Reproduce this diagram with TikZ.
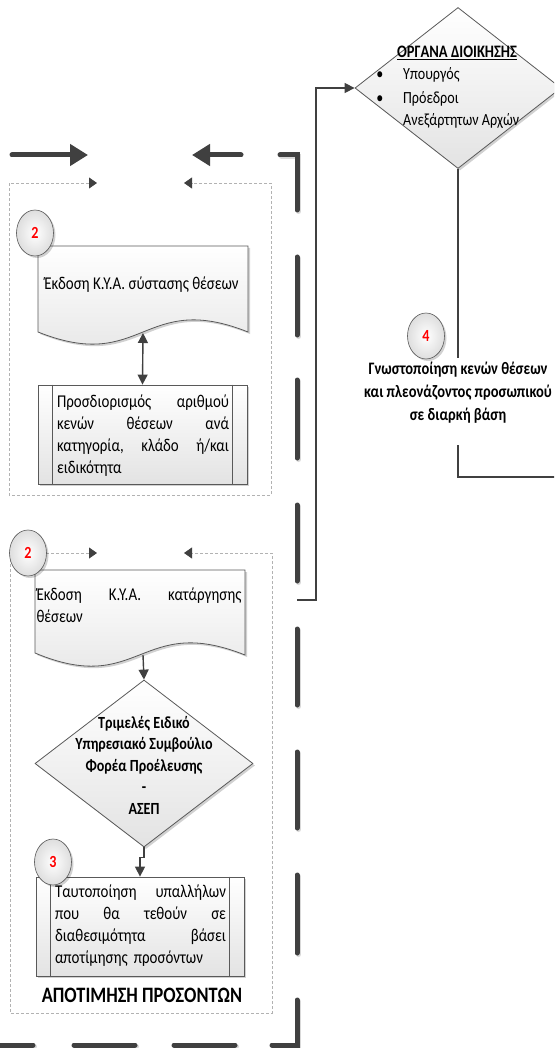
\documentclass[tikz,border=0pt]{standalone}
\usepackage{fontspec}
\setmainfont{Carlito}[FakeStretch=0.83]
\usetikzlibrary{arrows.meta,shapes.geometric,shadows,calc}
\definecolor{darkline}{HTML}{404040}
\definecolor{edgegray}{HTML}{595959}
\definecolor{numred}{HTML}{FF0000}
\begin{document}
\begin{tikzpicture}[x=1pt,y=-1pt,
  bigdash/.style={draw=darkline, line width=5pt, line cap=round,
    preaction={draw=black!15, line width=5pt, line cap=round, transform canvas={xshift=1.5pt,yshift=-1.5pt}}},
  bigarrow/.style={draw=darkline, line width=5pt, line cap=round, -{Triangle[length=18pt,width=21pt]}},
  guide/.style={draw=gray!60, line width=0.8pt, dash pattern=on 3pt off 2pt,
    {Triangle[length=8pt,width=11pt,color=darkline]}-{Triangle[length=8pt,width=11pt,color=darkline]}},
  conn/.style={draw=darkline, line width=1.4pt},
  tipa/.style={-{Triangle[length=10pt,width=10pt]}},
  shadowed/.style={drop shadow={shadow xshift=2pt,shadow yshift=-2pt,fill=black,opacity=0.18}},
  shapefill/.style={draw=edgegray, line width=0.8pt, top color=white, bottom color=black!11, shadowed},
  procbox/.style={rectangle, shapefill, inner sep=0pt},
  diam/.style={diamond, shapefill, inner sep=0pt},
  numcirc/.style={ellipse, draw=edgegray, line width=0.6pt, minimum width=37pt, minimum height=46pt,
    inner sep=0pt, inner color=white, outer color=black!13, shadowed,
    font=\fontsize{17}{17}\selectfont\bfseries, text=numred},
  bodytext/.style={align=left, inner sep=0pt, font=\fontsize{18}{22}\selectfont},
  plaintext/.style={inner sep=0pt, font=\fontsize{17}{20}\selectfont},
  boldtext/.style={align=center, inner sep=0pt, font=\fontsize{17}{21.5}\selectfont\bfseries}
]
\useasboundingbox (0,0) rectangle (554,1048);
\clip (0,0) rectangle (554,1048);

% big top arrows
\coordinate (ta1) at (12,155); \coordinate (ta2) at (88,155);
\draw[bigarrow] (ta1) -- (ta2);
\coordinate (tb1) at (241,155); \coordinate (tb2) at (192,155);
\draw[bigarrow] (tb1) -- (tb2);

% big dashed frame
\draw[bigdash] (280,155) -- (297,155) -- (297,210);
\foreach \a/\b in {257/335, 380/458, 505/581, 629/705, 752/828, 875/953}
  \draw[bigdash] (297,\a) -- (297,\b);
\draw[bigdash] (297,1000) -- (297,1045) -- (272,1045);
\foreach \a/\b in {235/174, 135/74, 33/-5}
  \draw[bigdash] (\a,1045) -- (\b,1045);

% thin dashed guide boxes
\draw[guide] (97,183) -- (9,183) -- (9,495) -- (271,495) -- (271,183) -- (184,183);
\draw[guide] (97,553) -- (10,553) -- (10,1013) -- (272,1013) -- (272,553) -- (184,553);

% right part: diamond 1 and connectors
\coordinate (exit) at (297,600);
\node[diam, minimum width=206pt, minimum height=161pt] (d1) at (458,88) {};
\draw[conn, tipa] (exit) -- ++(19,0) |- (d1.west);
\coordinate (d1out) at (560,477);
\draw[conn] (d1.south) |- (d1out);
\node[boldtext, font=\fontsize{17.5}{20}\selectfont\bfseries] (d1t) at (457,53) {\underline{ΟΡΓΑΝΑ ΔΙΟΙΚΗΣΗΣ}};
\node[plaintext] (bu1) at (380,76) {•};
\node[plaintext] (bu2) at (380,100) {•};
\node[plaintext, anchor=base west] (it1) at (403,80) {Υπουργός};
\node[plaintext, anchor=base west] (it2) at (403,104) {Πρόεδροι};
\node[plaintext, anchor=base west] (it3) at (403,126) {Ανεξάρτητων Αρχών};

\fill[white] (358,358) rectangle (556,445);
\node[boldtext, font=\fontsize{17.5}{23}\selectfont\bfseries] (g4) at (458,393)
  {Γνωστοποίηση κενών θέσεων\\ και πλεονάζοντος προσωπικού\\ σε διαρκή βάση};

% document 1
\path[shapefill] (38,246) -- (248,246) -- (248,332) .. controls (143,290) and (143,374) .. (38,332) -- cycle;
\coordinate (doc1b) at (143,333);
\node[plaintext, font=\fontsize{18}{20}\selectfont] (t1) at (141.5,285) {Έκδοση Κ.Υ.Α. σύστασης θέσεων};

% box 1
\node[procbox, minimum width=209pt, minimum height=99pt] (b1) at (142.5,434.5) {};
\draw[edgegray, line width=0.8pt] ([xshift=15pt]b1.north west) -- ([xshift=15pt]b1.south west);
\draw[edgegray, line width=0.8pt] ([xshift=-15pt]b1.north east) -- ([xshift=-15pt]b1.south east);
\node[bodytext, text width=172pt, anchor=north] (b1t) at (143,392)
  {\strut Προσδιορισμός\hfill αριθμού\\ κενών\hfill θέσεων\hfill ανά\\ κατηγορία,\hfill κλάδο\hfill ή/και\\ ειδικότητα};
\draw[conn, {Triangle[length=10pt,width=10pt]}-{Triangle[length=10pt,width=10pt]}] (doc1b) -- (b1.north);

% document 2
\path[shapefill] (35,570) -- (245,570) -- (245,655) .. controls (140,613) and (140,697) .. (35,653) -- cycle;
\coordinate (doc2b) at (143,655);
\node[bodytext, text width=205pt, anchor=north] (t2) at (139,585)
  {\strut Έκδοση\hfill Κ.Υ.Α.\hfill κατάργησης\\ θέσεων};

% diamond 2
\node[diam, minimum width=218pt, minimum height=167pt] (d2) at (144,763.5) {};
\draw[conn, tipa] (doc2b) -- (d2.north);
\node[boldtext] (d2t) at (144,765)
  {Τριμελές Ειδικό\\ Υπηρεσιακό Συμβούλιο\\ Φορέα Προέλευσης\\ -\\ ΑΣΕΠ};

% box 3
\node[procbox, minimum width=208pt, minimum height=99pt] (b3) at (140,926.5) {};
\draw[edgegray, line width=0.8pt] ([xshift=15pt]b3.north west) -- ([xshift=15pt]b3.south west);
\draw[edgegray, line width=0.8pt] ([xshift=-15pt]b3.north east) -- ([xshift=-15pt]b3.south east);
\node[bodytext, text width=171pt, anchor=north] (b3t) at (140.5,882)
  {\strut Ταυτοποίηση\hfill υπαλλήλων\\ που\hfill θα\hfill τεθούν\hfill σε\\ διαθεσιμότητα\hfill βάσει\\ αποτίμησης προσόντων};
\draw[conn, tipa] (d2.south) -- ++(0,10) -| (b3.north);

\node[boldtext, font=\fontsize{22}{24}\selectfont\bfseries] (title) at (142,995) {ΑΠΟΤΙΜΗΣΗ ΠΡΟΣΟΝΤΩΝ};

% number circles
\node[numcirc] (n2a) at (35,233) {2};
\node[numcirc] (n2b) at (28,553) {2};
\node[numcirc] (n3) at (53,862) {3};
\node[numcirc] (n4) at (426,336) {4};
\end{tikzpicture}
\end{document}
